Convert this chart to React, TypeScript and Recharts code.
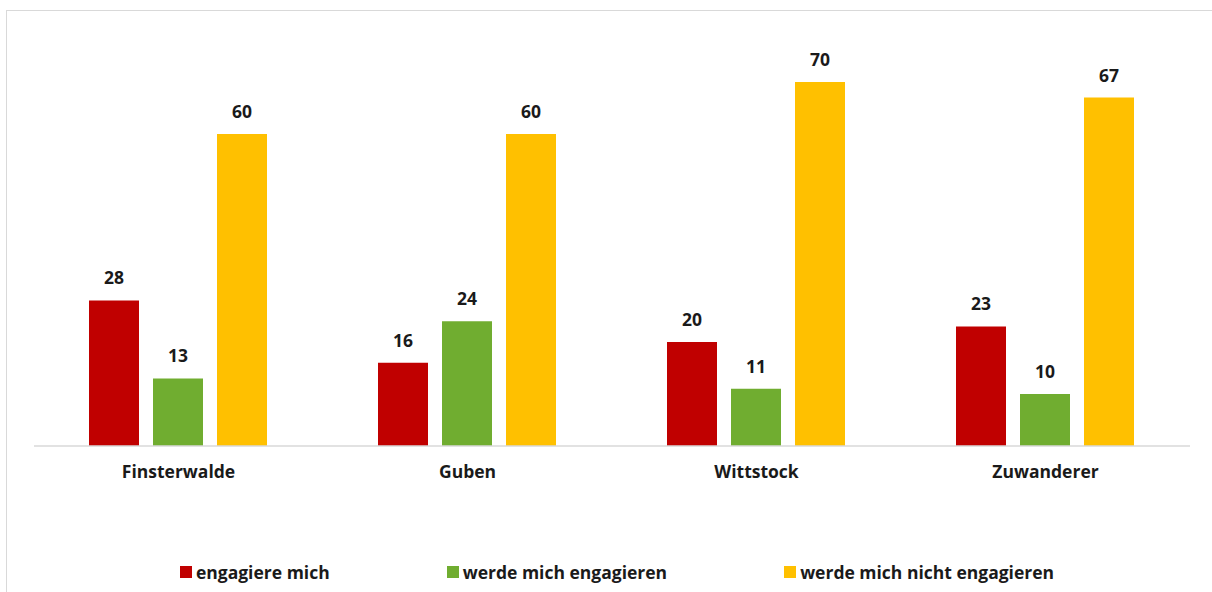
import { Bar, BarChart, LabelList, Legend, XAxis, YAxis } from "recharts";

const categories = ["Finsterwalde", "Guben", "Wittstock", "Zuwanderer"];
const engagiereMich = [28, 16, 20, 23];
const werdeMichEngagieren = [13, 24, 11, 10];
const werdeMichNichtEngagieren = [60, 60, 70, 67];

const seriesNames = [
  "engagiere mich",
  "werde mich engagieren",
  "werde mich nicht engagieren",
];
const seriesColors = ["#C00000", "#70AD30", "#FFC000"];

const data = categories.map((name, i) => ({
  name,
  a: engagiereMich[i],
  b: werdeMichEngagieren[i],
  c: werdeMichNichtEngagieren[i],
}));

const FONT = "'Open Sans', Lato, sans-serif";
const TEXT = "#1a1a1a";
const FS = 17.5;

const renderLegend = (props: any) => {
  const { payload = [] } = props;
  return (
    <div
      style={{
        display: "flex",
        justifyContent: "center",
        gap: 117,
        height: 24,
        alignItems: "center",
        paddingLeft: 22,
        fontFamily: FONT,
        fontWeight: 700,
        fontSize: FS,
        color: TEXT,
      }}
    >
      {payload.map((p: any) => (
        <div key={p.value} style={{ display: "flex", alignItems: "center" }}>
          <span
            style={{
              display: "inline-block",
              width: 12,
              height: 12,
              background: p.color,
              marginRight: 4,
            }}
          />
          {p.value}
        </div>
      ))}
    </div>
  );
};

export default function App() {
  const keys = ["a", "b", "c"];
  return (
    <div
      style={{
        position: "absolute",
        left: 0,
        top: 0,
        width: 1212,
        height: 592,
        background: "#fff",
        overflow: "hidden",
      }}
    >
      <div
        style={{
          position: "absolute",
          left: 6,
          top: 10,
          width: 1230,
          height: 620,
          borderLeft: "1px solid #d9d9d9",
          borderTop: "1px solid #d9d9d9",
        }}
      />
      <BarChart
        width={1212}
        height={592}
        data={data}
        margin={{ top: 30, right: 22, left: 34, bottom: 82 }}
        barGap={14}
        barCategoryGap={55}
      >
        <YAxis hide domain={[0, 80]} />
        <XAxis
          dataKey="name"
          height={40}
          tickLine={false}
          axisLine={{ stroke: "#d9d9d9", strokeWidth: 1.5 }}
          tickMargin={14}
          tick={{
            fill: TEXT,
            fontFamily: FONT,
            fontWeight: 700,
            fontSize: FS,
          }}
        />
        <Legend
          verticalAlign="bottom"
          content={renderLegend}
          wrapperStyle={{ bottom: 8, left: 0, width: 1212 }}
        />
        {keys.map((k, i) => (
          <Bar
            key={k}
            dataKey={k}
            name={seriesNames[i]}
            fill={seriesColors[i]}
            isAnimationActive={false}
          >
            <LabelList
              dataKey={k}
              position="top"
              offset={16}
              fill={TEXT}
              fontFamily={FONT}
              fontWeight={700}
              fontSize={FS}
            />
          </Bar>
        ))}
      </BarChart>
    </div>
  );
}
